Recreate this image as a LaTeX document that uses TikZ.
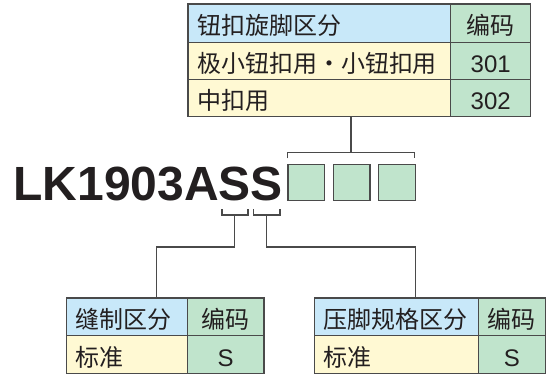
\documentclass[tikz,border=0pt]{standalone}
\usepackage{fontspec}
\setmainfont{Liberation Sans}
\newfontfamily\cjk{Noto Sans CJK SC}
\newfontfamily\arl{Liberation Sans}
\definecolor{hdrblue}{HTML}{C8E8F9}
\definecolor{rowyel}{HTML}{FFF9D3}
\definecolor{codegreen}{HTML}{C0E4CC}
\definecolor{linegray}{HTML}{4A4A4A}
\definecolor{txt}{HTML}{231F20}
\begin{document}
\begin{tikzpicture}[x=1pt,y=-1pt,
  cellbase/.style={draw=linegray, line width=1.4pt, anchor=north west, text=txt, text height=23pt, text depth=0pt},
  lcell/.style={cellbase, inner xsep=9pt, inner ysep=0pt, align=left, font=\cjk\fontsize{24}{24}\selectfont},
  ccell/.style={cellbase, inner sep=0pt, align=center},
  cjkf/.style={font=\cjk\fontsize{24}{24}\selectfont},
  numf/.style={font=\arl\fontsize{24}{24}\selectfont},
  conn/.style={draw=linegray, line width=1.4pt},
  sq/.style={draw=linegray, line width=1.4pt, fill=codegreen, anchor=north west, inner sep=0pt, minimum width=36.7pt, minimum height=36.3pt}
]
\useasboundingbox (0,0) rectangle (547,375);
% top table
\node[lcell, fill=hdrblue, text width=244.7pt, minimum height=38.4pt] (tah) at (187.3,3.3) {钮扣旋脚区分};
\node[ccell, fill=codegreen, minimum width=80pt, minimum height=38.4pt, cjkf] (tac) at (450,3.3) {编码};
\node[lcell, fill=rowyel, text width=244.7pt, minimum height=37.3pt] (tar1) at (187.3,41.7) {极小钮扣用・小钮扣用};
\node[ccell, fill=codegreen, minimum width=80pt, minimum height=37.3pt, numf] (tac1) at (450,41.7) {301};
\node[lcell, fill=rowyel, text width=244.7pt, minimum height=36.7pt] (tar2) at (187.3,79) {中扣用};
\node[ccell, fill=codegreen, minimum width=80pt, minimum height=36.7pt, numf] (tac2) at (450,79) {302};
% model text
\node[anchor=base west, inner sep=0pt, text=txt, font=\arl\bfseries\fontsize{48}{48}\selectfont] (model) at (13.2,200) {LK1903ASS};
% squares
\node[sq] (s1) at (287.3,163.7) {};
\node[sq] (s2) at (332.7,163.7) {};
\node[sq] (s3) at (378,163.7) {};
% top bracket
\coordinate (btl) at (287.7,158.3);
\coordinate (btr) at (414.7,158.3);
\coordinate (btm) at (351,152.3);
\draw[conn] (btl) -- (btl |- btm) -- (btr |- btm) -- (btr);
\draw[conn] (btm) -- (btm |- tar2.south);
% lower brackets
\coordinate (b1l) at (222,209.3);
\coordinate (b1r) at (248,209.3);
\coordinate (b1m) at (234.7,215);
\coordinate (b2l) at (253.7,209.3);
\coordinate (b2r) at (280,209.3);
\coordinate (b2m) at (266.7,215);
\draw[conn] (b1l) -- (b1l |- b1m) -- (b1r |- b1m) -- (b1r);
\draw[conn] (b2l) -- (b2l |- b2m) -- (b2r |- b2m) -- (b2r);
% lower left table
\node[lcell, fill=hdrblue, text width=103pt, minimum height=37.7pt] (tbh) at (65.7,297.3) {缝制区分};
\node[ccell, fill=codegreen, minimum width=76.6pt, minimum height=37.7pt, cjkf] (tbc) at (186.7,297.3) {编码};
\node[lcell, fill=rowyel, text width=103pt, minimum height=37.7pt] (tbr) at (65.7,335) {标准};
\node[ccell, fill=codegreen, minimum width=76.6pt, minimum height=37.7pt, numf] (tbs) at (186.7,335) {S};
% lower right table
\node[lcell, fill=hdrblue, text width=145.7pt, minimum height=37.7pt] (tch) at (314,297.3) {压脚规格区分};
\node[ccell, fill=codegreen, minimum width=67pt, minimum height=37.7pt, cjkf] (tcc) at (477.7,297.3) {编码};
\node[lcell, fill=rowyel, text width=145.7pt, minimum height=37.7pt] (tcr) at (314,335) {标准};
\node[ccell, fill=codegreen, minimum width=67pt, minimum height=37.7pt, numf] (tcs) at (477.7,335) {S};
% connectors
\coordinate (j1) at (156.7,247);
\coordinate (j2) at (415.7,247);
\draw[conn] (b1m) |- (j1) -- (j1 |- tbh.north);
\draw[conn] (b2m) |- (j2) -- (j2 |- tch.north);
\end{tikzpicture}
\end{document}
